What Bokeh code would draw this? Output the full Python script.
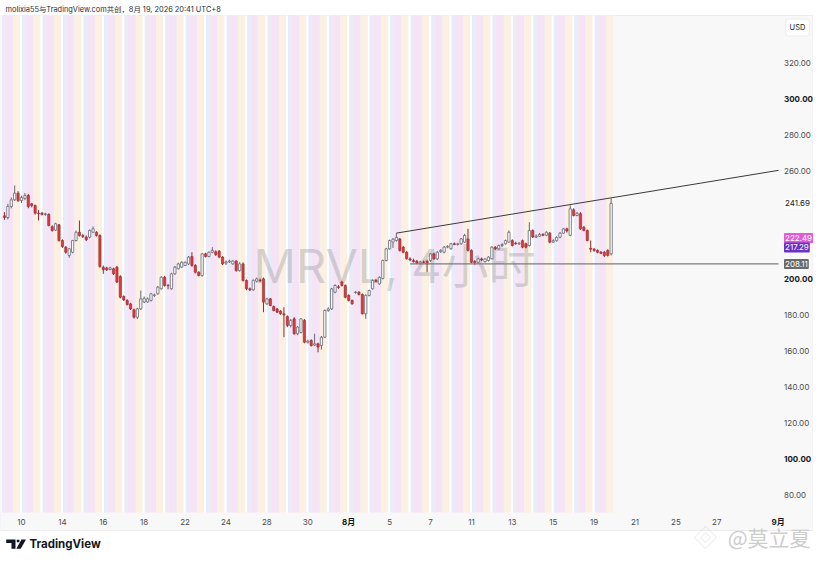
from bokeh.plotting import figure
from bokeh.models import Range1d, Label, PolyAnnotation, ColumnDataSource
from bokeh.embed import file_html
from bokeh.resources import INLINE
from bokeh.core.properties import value

# ---------------- data (MRVL, 4h bars, 6 bars per trading day) ----------------
opens = [234.8, 233.9, 240.0, 243.7, 247.4, 243.3, 244.5, 246.1, 241.5, 240.6,
         236.3, 236.3, 235.6, 235.6, 228.8, 226.9, 229.8, 221.1, 217.4, 212.8,
         214.6, 221.1, 225.7, 223.9, 223.0, 223.0, 225.7, 225.7, 223.9, 206.3,
         205.9, 205.0, 205.4, 206.3, 201.1, 190.0, 187.8, 185.9, 182.6, 178.5,
         183.1, 186.9, 187.0, 187.8, 190.6, 191.5, 194.3, 200.7, 196.1, 194.3,
         202.6, 205.4, 206.3, 207.2, 208.1, 212.2, 207.2, 203.5, 201.7, 213.7,
         212.2, 214.6, 214.8, 215.2, 211.9, 208.6, 209.2, 208.1, 209.7, 204.4,
         208.1, 198.9, 194.3, 193.7, 198.5, 199.0, 199.8, 185.9, 188.7, 184.4,
         183.1, 181.9, 180.4, 178.9, 173.9, 177.6, 169.3, 170.0, 176.7, 164.6,
         165.6, 163.0, 163.7, 162.8, 167.4, 182.2, 183.1, 192.4, 195.4, 198.0,
         196.1, 190.6, 187.8, 192.2, 192.4, 191.1, 180.4, 190.6, 194.3, 198.9,
         197.0, 200.0, 210.0, 216.5, 220.2, 221.1, 222.0, 217.4, 214.6, 210.9,
         210.0, 209.6, 208.5, 209.2, 209.6, 210.0, 213.7, 210.9, 214.9, 214.6,
         217.4, 216.5, 219.3, 218.9, 219.3, 220.2, 222.0, 215.6, 209.5, 209.0,
         210.9, 209.4, 210.0, 211.0, 217.4, 216.5, 218.3, 219.3, 220.2, 221.1,
         219.6, 219.3, 221.0, 219.3, 218.3, 226.7, 223.0, 223.5, 224.5, 224.0,
         225.2, 220.2, 221.0, 222.9, 225.2, 227.6, 224.0, 238.2, 235.0, 236.0,
         228.5, 226.7, 216.8, 216.3, 215.6, 214.6, 214.6, 215.6, 213.7]
highs = [236.9, 241.5, 245.0, 251.7, 248.5, 246.0, 247.5, 247.0, 242.0, 241.0,
         238.1, 237.0, 236.5, 236.2, 229.5, 231.0, 230.3, 221.8, 218.0, 217.0,
         221.5, 226.7, 232.2, 224.8, 223.9, 227.2, 228.9, 226.3, 224.5, 207.2,
         206.5, 206.5, 206.0, 207.0, 201.8, 190.6, 188.5, 186.5, 183.3, 183.7,
         193.3, 190.0, 189.5, 192.0, 191.6, 195.8, 201.3, 201.5, 197.0, 203.2,
         207.0, 208.7, 209.6, 209.5, 212.5, 214.6, 208.0, 204.0, 214.2, 214.3,
         215.0, 217.4, 215.6, 215.8, 212.4, 210.0, 210.5, 210.2, 210.2, 209.0,
         208.9, 199.5, 195.0, 199.5, 200.5, 200.0, 200.5, 189.3, 189.2, 185.0,
         183.6, 182.4, 184.0, 179.5, 177.5, 178.5, 173.5, 178.0, 177.5, 166.0,
         166.2, 169.3, 164.3, 168.0, 182.8, 184.0, 194.8, 196.8, 196.3, 198.8,
         196.7, 191.2, 188.3, 193.0, 193.0, 191.7, 191.2, 193.8, 199.5, 199.8,
         201.2, 210.5, 217.0, 221.6, 222.5, 225.2, 222.5, 218.0, 215.2, 211.8,
         211.0, 210.3, 209.8, 210.0, 210.5, 214.2, 214.3, 215.2, 216.3, 218.0,
         218.5, 219.8, 220.0, 219.8, 222.5, 224.8, 227.6, 216.2, 210.2, 211.5,
         211.6, 211.2, 212.4, 218.0, 218.0, 218.8, 219.6, 221.6, 226.7, 221.8,
         220.4, 220.2, 221.6, 219.9, 231.3, 227.3, 224.5, 225.3, 225.1, 226.2,
         225.8, 222.0, 223.4, 225.7, 228.1, 228.2, 240.6, 239.0, 237.0, 236.8,
         229.1, 227.2, 221.1, 217.0, 216.2, 215.3, 215.2, 216.2, 244.5]
lows = [232.6, 232.8, 239.0, 243.0, 242.5, 242.0, 243.5, 239.0, 239.5, 235.5,
        232.2, 235.0, 234.8, 229.0, 226.0, 226.5, 220.5, 217.0, 213.8, 211.5,
        214.0, 220.5, 223.3, 222.5, 220.8, 222.3, 225.2, 223.3, 206.0, 202.6,
        204.2, 204.5, 202.0, 197.5, 189.0, 187.5, 185.0, 182.5, 177.8, 177.5,
        182.5, 186.3, 186.5, 187.2, 189.8, 191.0, 193.8, 195.5, 194.0, 193.8,
        202.0, 205.0, 205.8, 206.8, 207.5, 206.5, 202.8, 201.2, 201.0, 211.7,
        211.8, 214.0, 212.5, 211.3, 207.5, 207.5, 208.6, 207.6, 203.8, 203.8,
        198.3, 193.5, 193.0, 193.2, 197.8, 198.0, 181.3, 185.4, 184.6, 181.8,
        180.8, 179.9, 167.4, 173.0, 172.8, 168.8, 168.5, 169.5, 164.0, 163.8,
        162.2, 162.5, 159.0, 160.5, 166.9, 181.5, 182.5, 191.8, 194.3, 195.6,
        189.0, 187.3, 185.4, 191.6, 190.6, 180.0, 177.6, 190.0, 193.8, 197.8,
        196.5, 199.5, 209.5, 216.0, 217.0, 220.5, 215.0, 214.0, 210.5, 209.6,
        208.8, 208.0, 207.8, 208.4, 203.5, 209.2, 210.4, 210.3, 214.2, 214.0,
        216.8, 216.0, 218.5, 218.3, 218.8, 219.8, 215.0, 208.5, 207.6, 208.3,
        209.6, 208.8, 209.4, 210.5, 215.8, 216.0, 217.5, 218.8, 219.8, 217.8,
        218.8, 218.6, 216.8, 216.8, 217.8, 222.5, 222.4, 223.0, 223.5, 223.5,
        219.6, 219.8, 220.5, 222.4, 224.7, 225.5, 223.5, 234.5, 234.6, 227.0,
        226.2, 220.6, 214.6, 214.8, 214.0, 213.5, 211.9, 212.2, 212.8]
closes = [233.9, 240.0, 243.7, 247.4, 243.3, 245.0, 246.1, 240.0, 240.6, 236.3,
          236.0, 235.6, 235.9, 229.4, 226.7, 230.4, 221.1, 217.8, 214.6, 216.5,
          221.1, 225.7, 223.9, 223.3, 221.5, 226.7, 227.6, 223.9, 206.7, 204.8,
          204.8, 205.9, 202.6, 198.0, 189.6, 188.1, 185.6, 183.1, 178.5, 183.1,
          188.7, 189.0, 188.7, 191.5, 190.8, 195.2, 200.7, 196.1, 196.0, 202.6,
          206.3, 208.1, 209.0, 209.0, 211.9, 207.2, 203.5, 201.7, 213.7, 212.2,
          214.6, 215.6, 213.3, 211.9, 208.1, 209.2, 209.7, 209.7, 204.4, 208.1,
          198.9, 194.3, 193.7, 199.0, 199.8, 198.8, 186.9, 188.7, 185.0, 182.2,
          181.3, 180.4, 179.8, 173.9, 176.7, 169.3, 173.0, 177.6, 164.6, 165.2,
          162.8, 163.7, 161.9, 167.4, 182.2, 183.1, 194.3, 196.1, 195.0, 196.1,
          189.6, 187.8, 186.0, 192.4, 191.1, 180.4, 190.6, 193.3, 198.9, 198.4,
          200.7, 210.0, 216.5, 221.1, 221.8, 222.8, 215.6, 214.6, 211.0, 210.3,
          209.4, 208.5, 209.2, 209.0, 208.0, 213.7, 210.9, 214.6, 215.6, 217.4,
          217.8, 219.3, 218.9, 219.3, 222.0, 223.9, 215.6, 209.0, 208.8, 210.9,
          210.3, 210.9, 211.9, 217.4, 216.5, 218.3, 218.9, 221.1, 225.7, 218.3,
          219.3, 219.6, 217.4, 217.4, 226.7, 223.0, 223.5, 224.5, 224.0, 225.7,
          220.2, 221.0, 222.9, 225.2, 227.6, 226.4, 238.7, 235.0, 236.2, 227.6,
          226.7, 221.1, 216.3, 215.6, 214.6, 214.0, 212.8, 212.8, 241.7]

# time axis: trading-day index 0 = Jul 10
tick_days = [0, 2, 4, 6, 8, 10, 12, 14, 18, 20, 22, 24, 26, 28, 30, 32, 34]
tick_labels = ["10", "14", "16", "18", "22", "24", "28", "30", "5", "7", "11", "13", "15", "19", "21", "25", "27"]
month_days = [16, 37]
month_labels = ["8月", "9月"]
first_day, last_day = -1, 28          # days with session shading
first_slot = -5                       # first bar: 2nd 4h bar of day -1
bars_per_day = 6

# price axis
price_ticks = [80, 120, 140, 160, 180, 260, 280, 320]
price_ticks_bold = [100, 200, 300]
marker_prices = [241.69, 222.49, 217.29, 208.11]
marker_bg = ["#ffffff", "#e25ad6", "#6a31c2", "#6a6a6a"]
marker_fg = ["#131722", "#ffffff", "#ffffff", "#ffffff"]

# drawings
trend_x = [18.33, 28.83]
trend_y = [225.2, 244.8]
hline_price = 208.11
hline_start = 19.0

# ---------------- layout helpers (pixel -> data, decorations only) ----------------
W, H = 813, 551
PX_DAY = 20.45          # pixels per trading day
PX_PRICE = 1.8          # pixels per 1 USD


def px2x(px):
    return (px - 21) / PX_DAY


def py2y(py):
    return 200 + (278 - py) / PX_PRICE


X0, X1 = px2x(0), px2x(W)
Y0, Y1 = py2y(H), py2y(0)
PANEL_L, PANEL_R = px2x(0), px2x(778)      # chart pane
PANEL_T, PANEL_B = py2y(15), py2y(512)
SCALE_R = px2x(812.5)
TIME_B = py2y(530)

FONT = "Inter, 'Noto Sans CJK SC', sans-serif"

p = figure(width=W, height=H, x_range=Range1d(X0, X1), y_range=Range1d(Y0, Y1),
           x_axis_location=None, y_axis_location=None, output_backend="svg",
           toolbar_location=None, title=None, min_border=0)
p.background_fill_color = "#ffffff"
p.border_fill_color = "#ffffff"
p.outline_line_color = None
p.grid.visible = False

# panes (chart, price scale, time scale)
p.quad(left=[PANEL_L], right=[SCALE_R], top=[PANEL_T], bottom=[TIME_B],
       fill_color="#f8f8f9", line_color="#ececef", line_width=1)

# session shading
segs = [(-0.07, 0.03, "#ffffff"), (0.03, 0.2, "#e9ebf9"), (0.2, 0.59, "#f5e4f6"), (0.59, 0.93, "#fbf0e2")]
ql, qr, qc = [], [], []
for d in range(first_day, last_day + 1):
    for a, b, c in segs:
        ql.append(max(d + a, PANEL_L))
        qr.append(d + b)
        qc.append(c)
p.quad(left=ql, right=qr, top=PANEL_T, bottom=PANEL_B, fill_color=qc, line_color=None)

# watermark
p.text(x=[px2x(394)], y=[py2y(265)], text=["MRVL, 4小时"], text_align="center",
       text_baseline="middle", text_font=value(FONT), text_font_size="47px",
       text_color="#787b86", text_alpha=0.28)

# candles
xs = [(first_slot + i) / bars_per_day for i in range(len(closes))]
up = [c >= o for o, c in zip(opens, closes)]


def pick(vals, want):
    return [v for v, u in zip(vals, up) if u == want]


src_up = ColumnDataSource(dict(x=pick(xs, True), o=pick(opens, True), h=pick(highs, True),
                               l=pick(lows, True), c=pick(closes, True)))
src_dn = ColumnDataSource(dict(x=pick(xs, False), o=pick(opens, False), h=pick(highs, False),
                               l=pick(lows, False), c=pick(closes, False)))
UP_LINE, DN_FILL, DN_LINE = "#666973", "#e0383d", "#8e2b30"
p.segment(x0="x", y0="l", x1="x", y1="h", source=src_up, line_color=UP_LINE, line_width=1)
p.segment(x0="x", y0="l", x1="x", y1="h", source=src_dn, line_color=DN_LINE, line_width=1)
p.vbar(x="x", top="c", bottom="o", width=0.11, source=src_up, fill_color="#ffffff",
       line_color=UP_LINE, line_width=0.8)
p.vbar(x="x", top="o", bottom="c", width=0.11, source=src_dn, fill_color=DN_FILL,
       line_color=DN_LINE, line_width=0.6)

# drawings: rising trend line (extended right) and horizontal support
slope = (trend_y[1] - trend_y[0]) / (trend_x[1] - trend_x[0])
p.line(x=[trend_x[0], PANEL_R], y=[trend_y[0], trend_y[0] + slope * (PANEL_R - trend_x[0])],
       line_color="#3a3a3a", line_width=1)
p.line(x=[hline_start, PANEL_R], y=[hline_price, hline_price], line_color="#7d7d7d", line_width=1.2)

# time scale labels
AX_COL = "#4c4c4c"
LAB_Y = py2y(521)
p.text(x=tick_days, y=[LAB_Y] * len(tick_days), text=tick_labels, text_align="center",
       text_baseline="middle", text_font=value(FONT), text_font_size="8px", text_color=AX_COL)
p.text(x=month_days, y=[LAB_Y] * len(month_days), text=month_labels, text_align="center",
       text_baseline="middle", text_font=value(FONT), text_font_size="8px", text_font_style="bold",
       text_color="#131722")

# price scale labels
LAB_X = px2x(783.5)
p.text(x=[LAB_X] * len(price_ticks), y=price_ticks, text=[f"{v:.2f}" for v in price_ticks],
       text_align="left", text_baseline="middle", text_font=value(FONT), text_font_size="8px",
       text_color=AX_COL)
p.text(x=[LAB_X] * len(price_ticks_bold), y=price_ticks_bold, text=[f"{v:.2f}" for v in price_ticks_bold],
       text_align="left", text_baseline="middle", text_font=value(FONT), text_font_size="8px",
       text_font_style="bold", text_color="#131722")

for v, bg, fg in zip(marker_prices, marker_bg, marker_fg):
    p.add_layout(Label(x=LAB_X, y=v, text=f"{v:.2f}", text_align="left", text_baseline="middle",
                       text_font=FONT, text_font_size="8px", text_color=fg, background_fill_color=bg,
                       padding=(1, 2), border_radius=1))

p.add_layout(Label(x=px2x(797), y=py2y(27), text="USD", text_align="center", text_baseline="middle",
                   text_font=FONT, text_font_size="7.5px", text_color="#131722", background_fill_color="#ffffff",
                   border_line_color="#ececf0", padding=4, border_radius=3))

# header
p.add_layout(Label(x=px2x(5), y=py2y(9), text="molixia55与TradingView.com共创，8月 19, 2026 20:41 UTC+8",
                   text_align="left", text_baseline="middle", text_font=FONT, text_font_size="7.4px",
                   text_color="#2a2e39"))

# TradingView logo
LOGO_DY = -5
p.add_layout(PolyAnnotation(xs=[px2x(v) for v in [5.7, 15, 15, 11, 11, 5.7]],
                            ys=[py2y(v + LOGO_DY) for v in [544, 544, 553.3, 553.3, 547.6, 547.6]],
                            fill_color="#131722", fill_alpha=1, line_color=None))
p.add_layout(PolyAnnotation(xs=[px2x(v) for v in [16.3, 18.9, 18.9, 16.3]],
                            ys=[py2y(v + LOGO_DY) for v in [544.2, 544.2, 546.8, 546.8]],
                            fill_color="#131722", fill_alpha=1, line_color=None))
p.add_layout(PolyAnnotation(xs=[px2x(v) for v in [21.0, 25.5, 20.2, 15.8]],
                            ys=[py2y(v + LOGO_DY) for v in [544, 544, 553.3, 553.3]],
                            fill_color="#131722", fill_alpha=1, line_color=None))
p.add_layout(Label(x=px2x(29), y=py2y(548.5 + LOGO_DY), text="TradingView", text_align="left",
                   text_baseline="middle", text_font=FONT, text_font_size="11.5px", text_font_style="bold",
                   text_color="#131722"))

# bottom-right watermark
p.add_layout(PolyAnnotation(xs=[px2x(v) for v in [705, 716, 705, 694]],
                            ys=[py2y(v) for v in [526, 537, 548, 537]],
                            fill_color=None, fill_alpha=0, line_color="#d4d4d4", line_width=1.5))
p.add_layout(PolyAnnotation(xs=[px2x(v) for v in [705, 710, 705, 700]],
                            ys=[py2y(v) for v in [532, 537, 542, 537]],
                            fill_color=None, fill_alpha=0, line_color="#d4d4d4", line_width=1.5))
p.add_layout(Label(x=px2x(810), y=py2y(536), text="@莫立夏", text_align="right", text_baseline="middle",
                   text_font="'Noto Sans CJK SC'", text_font_size="21px", text_color="#cdcdcd"))

open("out.html", "w").write(file_html(p, INLINE))
